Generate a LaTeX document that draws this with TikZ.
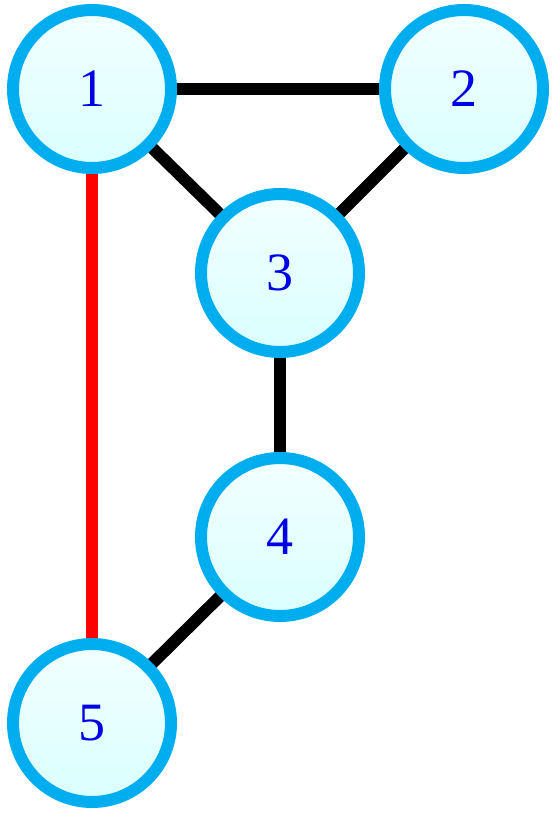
\documentclass[tikz,border=0pt]{standalone}
\usepackage{fontspec}
\setmainfont{Liberation Serif}
\usetikzlibrary{backgrounds}
\definecolor{ringcol}{RGB}{0,174,239}
\definecolor{topfill}{RGB}{242,255,255}
\definecolor{botfill}{RGB}{218,255,255}
\definecolor{numcol}{RGB}{0,0,230}
\tikzset{
  vertex/.style={circle, draw=ringcol, line width=12pt, minimum size=158pt,
    top color=topfill, bottom color=botfill, text=numcol,
    font=\fontsize{54}{60}\selectfont, inner sep=0pt},
  edge/.style={line width=12pt, draw=black},
  rededge/.style={line width=12pt, draw=red}
}
\begin{document}
\begin{tikzpicture}[x=1pt,y=1pt]
\useasboundingbox (0,0) rectangle (555,814);
\node[vertex] (n1) at (92,725) {1};
\node[vertex] (n2) at (464,725) {2};
\node[vertex] (n3) at (280,541) {3};
\node[vertex] (n4) at (280,277) {4};
\node[vertex] (n5) at (92,91) {5};
\begin{scope}[on background layer]
\draw[edge] (n1.center) -- (n2.center);
\draw[edge] (n1.center) -- (n3.center);
\draw[edge] (n2.center) -- (n3.center);
\draw[edge] (n3.center) -- (n4.center);
\draw[edge] (n4.center) -- (n5.center);
\draw[rededge] (n1.center) -- (n5.center);
\end{scope}
\end{tikzpicture}
\end{document}
